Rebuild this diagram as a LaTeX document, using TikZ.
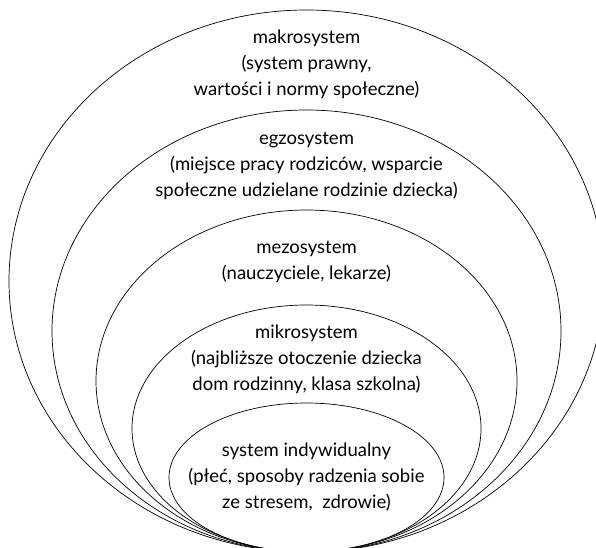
\documentclass[tikz,border=0pt]{standalone}
\usepackage{fontspec}
\setmainfont{Lato}
\begin{document}
\begin{tikzpicture}[x=1pt,y=-1pt,font=\fontsize{18.5}{26}\selectfont]
\tikzstyle{shell}=[draw,line width=0.7pt]
\tikzstyle{lbl}=[align=center,inner sep=0pt]
\useasboundingbox (0,0) rectangle (596,547);
\clip (0,0) rectangle (596,547);
% nested systems, all touching at the bottom
\draw[shell] (306.5,281) ellipse [x radius=297.5pt,y radius=271pt];
\draw[shell] (306.5,331) ellipse [x radius=254.5pt,y radius=221pt];
\draw[shell] (306.5,381) ellipse [x radius=210.5pt,y radius=171pt];
\draw[shell] (306.5,428.5) ellipse [x radius=174.5pt,y radius=123.5pt];
\draw[shell] (306.5,477.5) ellipse [x radius=137.5pt,y radius=74.5pt];
\node[lbl] (makro) at (306.5,64) {makrosystem\\(system prawny,\\wartości i normy społeczne)};
\node[lbl] (egzo) at (306.5,166) {egzosystem\\(miejsce pracy rodziców, wsparcie\\społeczne udzielane rodzinie dziecka)};
\node[lbl] (mezo) at (306.5,261.5) {mezosystem\\(nauczyciele, lekarze)};
\node[lbl] (mikro) at (306.5,359) {mikrosystem\\(najbliższe otoczenie dziecka\\dom rodzinny, klasa szkolna)};
\node[lbl] (indyw) at (306.5,477.5) {system indywidualny\\(płeć, sposoby radzenia sobie\\ze stresem,\ \ zdrowie)};
\end{tikzpicture}
\end{document}
